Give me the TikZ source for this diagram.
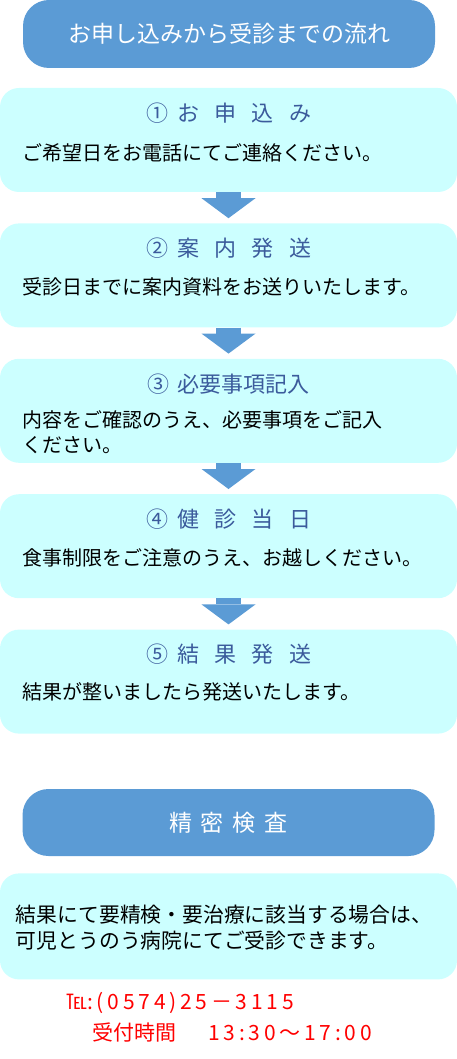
\documentclass[tikz,border=0pt]{standalone}
\usepackage{fontspec}
\setmainfont{Noto Sans CJK JP}
\newfontfamily\numfont[LetterSpace=18]{Noto Sans CJK JP}
\usetikzlibrary{positioning, arrows.meta, calc}
\definecolor{pillblue}{HTML}{5B9BD5}
\definecolor{boxcyan}{HTML}{CCFFFF}
\definecolor{headblue}{HTML}{3B5B9C}
\definecolor{telred}{HTML}{FF0000}
\newcommand{\gp}{\hspace{15pt}}
\newcommand{\digits}[1]{{\numfont #1}}
\tikzset{
  pill/.style={fill=pillblue, rounded corners=26pt, minimum width=412pt, minimum height=68pt, inner sep=0pt, text=white},
  stepbox/.style={fill=boxcyan, rounded corners=19pt, minimum width=457pt, minimum height=104pt, inner sep=0pt},
  head/.style={text=headblue, font=\fontsize{22}{26}\selectfont, inner sep=0pt},
  body/.style={font=\fontsize{20}{25}\selectfont, align=left, inner sep=0pt, anchor=west},
  flow/.style={pillblue, line width=25pt, -{Triangle[width=54pt, length=20pt, line width=0pt]}, shorten >=5pt},
  tel/.style={text=telred, font=\fontsize{21}{25}\selectfont, inner sep=0pt, anchor=west}
}
\begin{document}
\begin{tikzpicture}[x=1pt, y=-1pt, node distance=31pt]
\useasboundingbox (0,0) rectangle (457,1059);
% title
\node[pill, font=\fontsize{23}{28}\selectfont] (title) at (229,34) {お申し込みから受診までの流れ};
% steps
\node[stepbox] (s1) at (228.5,140) {};
\node[stepbox, below=of s1] (s2) {};
\node[stepbox, below=of s2] (s3) {};
\node[stepbox, below=of s3] (s4) {};
\node[stepbox, below=of s4] (s5) {};
\node[head] (h1) at ($(s1.north)+(0,25)$) {①\hspace{10pt}お\gp 申\gp 込\gp み};
\node[head] (h2) at ($(s2.north)+(0,25)$) {②\hspace{10pt}案\gp 内\gp 発\gp 送};
\node[head] (h3) at ($(s3.north)+(0,26)$) {③\hspace{8pt}必要事項記入};
\node[head] (h4) at ($(s4.north)+(0,25)$) {④\hspace{10pt}健\gp 診\gp 当\gp 日};
\node[head] (h5) at ($(s5.north)+(0,25)$) {⑤\hspace{10pt}結\gp 果\gp 発\gp 送};
\node[body] (t1) at ($(s1.north west)+(22,65)$) {ご希望日をお電話にてご連絡ください。};
\node[body] (t2) at ($(s2.north west)+(22,64)$) {受診日までに案内資料をお送りいたします。};
\node[body] (t3) at ($(s3.north west)+(22,74)$) {内容をご確認のうえ、必要事項をご記入\\ください。};
\node[body] (t4) at ($(s4.north west)+(22,64)$) {食事制限をご注意のうえ、お越しください。};
\node[body] (t5) at ($(s5.north west)+(22,62)$) {結果が整いましたら発送いたします。};
\draw[flow] (s1.south) -- (s2.north);
\draw[flow] (s2.south) -- (s3.north);
\draw[flow] (s3.south) -- (s4.north);
\draw[flow] (s4.south) -- (s5.north);
% detailed examination
\node[pill, below=55pt of s5, minimum height=67pt, font=\fontsize{23}{28}\selectfont] (seimitsu) {精\hspace{9pt}密\hspace{9pt}検\hspace{9pt}査};
\node[stepbox, below=17pt of seimitsu, minimum height=106pt] (s6) {};
\node[body, font=\fontsize{20.8}{26}\selectfont] (t6) at ($(s6.north west)+(16,54)$) {結果にて要精検・要治療に該当する場合は、\\可児とうのう病院にてご受診できます。};
% contact
\node[tel] (tel) at (66,1003) {℡\digits{:(0574)25－3115}};
\node[tel] (hours) at (92,1032) {受付時間\hspace{32pt}\digits{13:30～17:00}};
\end{tikzpicture}
\end{document}
